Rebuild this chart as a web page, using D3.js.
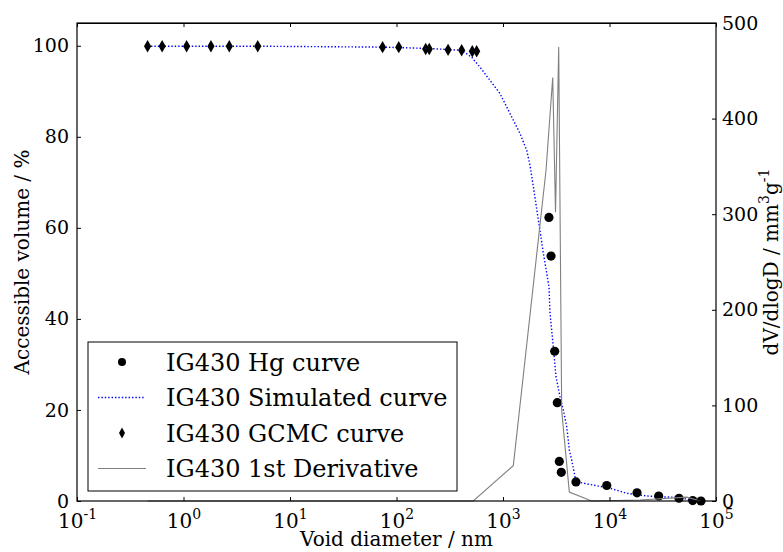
<!DOCTYPE html>
<html>
<head>
<meta charset="utf-8">
<script src="https://cdn.jsdelivr.net/npm/d3@7"></script>
<style>
  body { margin: 0; background: #fff; }
  text { font-family: "DejaVu Serif", serif; fill: #000; }
</style>
</head>
<body>
<div id="chart"></div>
<script>
// Hg intrusion points (diameter nm, accessible volume %)
const hgDiameter = [2700, 2825, 3057, 3234, 3378, 3527, 4844, 9420, 18130, 28960, 44960, 60410, 72270];
const hgVolume = [62.3, 53.8, 32.9, 21.6, 8.7, 6.3, 4.2, 3.4, 1.8, 1.1, 0.6, 0.1, 0.0];

// GCMC points
const gcmcDiameter = [0.46, 0.63, 1.07, 1.81, 2.69, 4.98, 74, 105, 188, 203, 305, 409, 515, 566];
const gcmcVolume = [99.9, 99.9, 99.9, 99.9, 99.9, 99.9, 99.7, 99.7, 99.3, 99.3, 99.1, 99.0, 98.8, 98.8];

// simulated curve
const simDiameter = [0.46, 4.98, 74, 203, 409, 508, 608, 755, 937, 1164, 1445, 1671, 1795, 1929, 2149,
  2394, 2704, 2763, 2966, 3145, 3430, 3683, 3966, 4197, 4416, 4746, 4922, 7047, 10110, 14500,
  22330, 31980, 45880, 61200];
const simVolume = [99.9, 99.9, 99.7, 99.4, 99.0, 97.5, 95.3, 92.4, 89.5, 85.1, 80.7, 77.0, 73.7, 69.0, 61.7,
  54.4, 47.0, 41.3, 33.9, 27.3, 22.9, 20.0, 16.3, 11.2, 9.0, 5.3, 4.2, 3.5, 2.8, 1.7,
  1.1, 0.9, 0.8, 0.0];

// first derivative (right axis)
const derivDiameter = [0.46, 526, 1250, 2535, 2930, 3113, 3335, 3557, 4195, 6810, 19300, 53100, 70800];
const derivValue = [0, 0, 37, 346, 443, 302, 475, 95, 9.4, 0, 1, 4, 0];

const xTicks = [0.1, 1, 10, 100, 1000, 10000, 100000];
const xTickExp = ['-1', '0', '1', '2', '3', '4', '5'];
const yLeftTicks = [0, 20, 40, 60, 80, 100];
const yRightTicks = [0, 100, 200, 300, 400, 500];

const legendLabels = ['IG430 Hg curve', 'IG430 Simulated curve', 'IG430 GCMC curve', 'IG430 1st Derivative'];

const W = 783, H = 552;
const MARGIN = { TOP: 23, BOTTOM: 51, LEFT: 77, RIGHT: 67 };
const FS = 19;

const svg = d3.select('#chart').append('svg')
  .attr('width', W).attr('height', H);

const x = d3.scaleLog().domain([0.1, 1e5]).range([MARGIN.LEFT, W - MARGIN.RIGHT]);
const y = d3.scaleLinear().domain([0, 105]).range([H - MARGIN.BOTTOM, MARGIN.TOP]);
const y2 = d3.scaleLinear().domain([0, 500]).range([H - MARGIN.BOTTOM, MARGIN.TOP]);

const bottom = H - MARGIN.BOTTOM, right = W - MARGIN.RIGHT;

// simulated curve
const simLine = d3.line().x(d => x(d[0])).y(d => y(d[1]));
svg.append('path')
  .datum(d3.zip(simDiameter, simVolume))
  .attr('d', simLine)
  .attr('fill', 'none')
  .attr('stroke', '#0000ff')
  .attr('stroke-width', 1.4)
  .attr('stroke-dasharray', '1.4,2');

// Hg circles
svg.selectAll('circle.hg')
  .data(d3.zip(hgDiameter, hgVolume))
  .enter().append('circle')
  .attr('class', 'hg')
  .attr('cx', d => x(d[0]))
  .attr('cy', d => y(d[1]))
  .attr('r', 4.6)
  .attr('fill', '#000');

// GCMC thin diamonds
const diamond = (cx, cy, w, h) => `M${cx},${cy - h} L${cx + w},${cy} L${cx},${cy + h} L${cx - w},${cy} Z`;
svg.selectAll('path.gcmc')
  .data(d3.zip(gcmcDiameter, gcmcVolume))
  .enter().append('path')
  .attr('class', 'gcmc')
  .attr('d', d => diamond(x(d[0]), y(d[1]), 3.6, 6.2))
  .attr('fill', '#000');

// derivative
const derivLine = d3.line().x(d => x(d[0])).y(d => y2(d[1]));
svg.append('path')
  .datum(d3.zip(derivDiameter, derivValue))
  .attr('d', derivLine)
  .attr('fill', 'none')
  .attr('stroke', '#808080')
  .attr('stroke-width', 1.1);

// frame
svg.append('rect')
  .attr('x', MARGIN.LEFT).attr('y', MARGIN.TOP)
  .attr('width', right - MARGIN.LEFT).attr('height', bottom - MARGIN.TOP)
  .attr('fill', 'none').attr('stroke', '#000').attr('stroke-width', 1.2);

// x axes (inward ticks)
const xAxis = svg.append('g')
  .attr('transform', `translate(0, ${bottom})`)
  .call(d3.axisBottom(x).tickValues(xTicks).tickSize(-4).tickFormat(''));
svg.append('g')
  .attr('transform', `translate(0, ${MARGIN.TOP})`)
  .call(d3.axisTop(x).tickValues(xTicks).tickSize(-4).tickFormat(''));

xAxis.selectAll('.tick').each(function (d, i) {
  const t = d3.select(this).append('text')
    .attr('y', 27)
    .attr('text-anchor', 'middle')
    .style('font-size', '20px');
  t.append('tspan').text('10');
  t.append('tspan').attr('dy', -9).style('font-size', '14px').text(xTickExp[i]);
});

// left y axis
const yAxis = svg.append('g')
  .attr('transform', `translate(${MARGIN.LEFT}, 0)`)
  .call(d3.axisLeft(y).tickValues(yLeftTicks).tickSize(-4).tickPadding(8));
yAxis.selectAll('text').style('font-size', FS + 'px').style('font-family', '"DejaVu Serif", serif');

// right y axis
const y2Axis = svg.append('g')
  .attr('transform', `translate(${right}, 0)`)
  .call(d3.axisRight(y2).tickValues(yRightTicks).tickSize(-4).tickPadding(6));
y2Axis.selectAll('text').style('font-size', FS + 'px').style('font-family', '"DejaVu Serif", serif');

[xAxis, yAxis, y2Axis].forEach(g => g.select('.domain').remove());

// axis titles
svg.append('text')
  .attr('x', (MARGIN.LEFT + right) / 2)
  .attr('y', 546)
  .attr('text-anchor', 'middle')
  .style('font-size', '20px')
  .text('Void diameter / nm');

svg.append('text')
  .attr('transform', `translate(29, ${(MARGIN.TOP + bottom) / 2}) rotate(-90)`)
  .attr('text-anchor', 'middle')
  .style('font-size', '20px')
  .text('Accessible volume / %');

const rl = svg.append('text')
  .attr('transform', `translate(778, ${(MARGIN.TOP + bottom) / 2}) rotate(-90)`)
  .attr('text-anchor', 'middle')
  .style('font-size', '20px');
rl.append('tspan').text('dV/dlogD / mm');
rl.append('tspan').attr('dy', -9).style('font-size', '14px').text('3');
rl.append('tspan').attr('dy', 9).text('g');
rl.append('tspan').attr('dy', -9).style('font-size', '14px').text('-1');

// legend
const lg = svg.append('g').attr('transform', 'translate(88, 342)');
lg.append('rect')
  .attr('width', 369).attr('height', 149)
  .attr('fill', '#fff').attr('stroke', '#000').attr('stroke-width', 1);

legendLabels.forEach((lab, i) => {
  const cy = 20 + i * 35.5;
  const row = lg.append('g').attr('transform', `translate(0, ${cy})`);
  if (i === 0) {
    row.append('circle').attr('cx', 34).attr('cy', 0).attr('r', 4).attr('fill', '#000');
  } else if (i === 1) {
    row.append('line').attr('x1', 10).attr('x2', 57).attr('y1', 0).attr('y2', 0)
      .attr('stroke', '#0000ff').attr('stroke-width', 1.4).attr('stroke-dasharray', '1.4,2');
  } else if (i === 2) {
    row.append('path').attr('d', diamond(34, 0, 3, 5.5)).attr('fill', '#000');
  } else {
    row.append('line').attr('x1', 10).attr('x2', 58).attr('y1', 0).attr('y2', 0)
      .attr('stroke', '#808080').attr('stroke-width', 1.1);
  }
  row.append('text')
    .attr('x', 78).attr('y', 8.5)
    .style('font-size', '24px')
    .text(lab);
});
</script>
</body>
</html>
